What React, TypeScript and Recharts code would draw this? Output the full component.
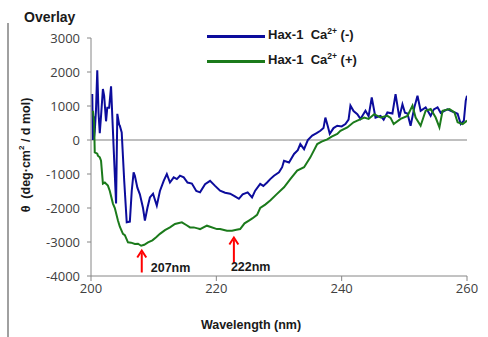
import {
  LineChart,
  Line,
  XAxis,
  YAxis,
  ReferenceLine,
  ReferenceDot,
  Legend,
} from "recharts";

// wavelength (nm) / ellipticity readings, Ca2+ free
const blueWl = [
  200.2, 200.3, 200.4, 200.5, 200.6, 200.8, 201.0, 201.2, 201.4, 201.6, 201.9, 202.1, 202.4, 202.6,
  202.9, 203.2, 203.4, 203.7, 204.0, 204.2, 204.5, 204.6, 204.9, 205.3, 205.7, 206.2, 206.5, 206.8,
  207.0, 207.4, 207.8, 208.3, 208.6, 209.0, 209.4, 209.9, 210.5, 211.0, 211.6, 212.1, 212.6, 213.2,
  213.7, 214.2, 214.8, 215.4, 216.1, 216.8, 217.4, 218.2, 219.0, 219.8, 220.6, 221.4, 222.2, 222.9,
  223.6, 224.2, 225.0, 225.7, 226.2, 227.0, 227.5, 228.1, 228.6, 229.2, 230.0, 230.5, 230.8, 231.6,
  232.4, 233.0, 233.4, 234.0, 234.6, 235.3, 236.0, 236.6, 237.1, 237.4, 237.8, 238.1, 238.7, 239.3,
  240.0, 240.6, 241.1, 241.4, 241.9, 242.5, 243.0, 243.8, 244.3, 244.8, 245.4, 246.2, 246.7, 247.3,
  248.1, 248.6, 249.2, 249.7, 250.1, 250.5, 251.0, 251.6, 252.1, 252.6, 253.4, 254.2, 254.7, 255.3,
  255.8, 256.4, 256.9, 257.4, 258.5, 259.0, 259.5, 259.8, 260.0,
];
const blueVal = [
  1350, 0, 700, 100, 250, 900, 2050, 800, 200, 700, 1500, 1300, 550, 950,
  950, 1580, 700, -600, -1870, 770, 450, 420, 220, -1200, -2420, -2400, -1500, -950,
  -1050, -1400, -1600, -2000, -2370, -2000, -1690, -1580, -1930, -1500, -1200, -1000, -1250, -1100,
  -1150, -1050, -1100, -1250, -1280, -1500, -1540, -1300, -1200, -1350, -1490, -1550, -1580, -1650,
  -1730, -1600, -1540, -1690, -1490, -1290, -1350, -1250, -1150, -1050, -950, -800, -610, -660,
  -410, -300, -120, -270, 0, 130, 200, 270, 350, 660, 400, 180, 350, 420,
  400, 470, 600, 1010, 850, 760, 620, 860, 700, 1250, 660, 710, 600, 810,
  780, 1350, 660, 1050, 800, 780, 420, 960, 1300, 860, 960, 710, 900, 960,
  800, 860, 900, 860, 770, 470, 570, 1160, 1300,
];

// Ca2+ bound
const greenWl = [
  200.3, 200.5, 200.6, 201.0, 201.1, 201.4, 201.6, 201.9, 202.2, 202.7, 203.0, 203.5, 203.8, 204.3,
  204.6, 205.1, 205.4, 205.9, 206.4, 207.0, 207.5, 208.0, 208.5, 209.1, 209.8, 210.4, 211.0, 211.8,
  212.6, 213.4, 214.5, 215.2, 215.8, 216.4, 217.0, 217.4, 218.5, 219.0, 220.1, 220.6, 221.7, 222.5,
  223.2, 223.8, 224.5, 225.2, 225.8, 226.5, 227.0, 227.8, 228.6, 229.6, 230.8, 231.8, 232.9, 234.0,
  235.0, 236.1, 236.8, 237.7, 238.4, 239.3, 239.8, 240.9, 241.9, 242.5, 243.6, 244.3, 245.2, 246.2,
  247.3, 247.8, 248.3, 249.4, 250.5, 251.3, 251.8, 252.6, 253.4, 254.2, 255.0, 255.6, 256.1, 257.2,
  258.0, 258.5, 259.3, 260.0,
];
const greenVal = [
  860, 500, -365, -400, -460, -510, -610, -1280, -1250, -1340, -1500, -1870, -2000, -2370,
  -2550, -2760, -2800, -3010, -3020, -3060, -3050, -3110, -3080, -3010, -2950, -2860, -2760, -2650,
  -2570, -2470, -2420, -2500, -2570, -2570, -2600, -2620, -2520, -2550, -2620, -2620, -2670, -2670,
  -2640, -2620, -2450, -2370, -2300, -2200, -2000, -1900, -1780, -1600, -1390, -1150, -900, -800,
  -510, -120, -50, 20, 100, 180, 270, 370, 520, 570, 660, 620, 760, 660,
  710, 650, 470, 620, 710, 1010, 660, 420, 860, 910, 660, 370, 860, 910,
  810, 520, 470, 570,
];

const yTicks = [-4000, -3000, -2000, -1000, 0, 1000, 2000, 3000];
const xTicks = [200, 220, 240, 260];

// peak markers: arrow tip position and label
const peakWl = [208.1, 222.8];
const peakVal = [-3250, -2870];
const peakLabels = ["207nm", "222nm"];

const blueData = blueWl.map((wl, i) => ({ wl, v: blueVal[i] }));
const greenData = greenWl.map((wl, i) => ({ wl, v: greenVal[i] }));

const FONT = "'Liberation Sans', Arial, sans-serif";
const TICK = { fontSize: 13, fill: "#404040", fontFamily: "'Open Sans', sans-serif" };

function Arrow(props: any, idx: number) {
  const { cx, cy } = props;
  const len = idx === 0 ? 22 : 26;
  const lx = idx === 0 ? cx + 9 : cx - 3;
  const ly = idx === 0 ? cy + 21 : cy + 33;
  return (
    <g>
      <line x1={cx} y1={cy + 2} x2={cx} y2={cy + len} stroke="#ff0000" strokeWidth={2} />
      <path
        d={`M${cx - 4.5},${cy + 7} L${cx},${cy} L${cx + 4.5},${cy + 7}`}
        stroke="#ff0000"
        strokeWidth={2}
        fill="none"
      />
      <text x={lx} y={ly} fontSize={12.5} fontWeight="bold" fill="#1a1a1a" fontFamily={FONT}>
        {peakLabels[idx]}
      </text>
    </g>
  );
}

function LegendBox(props: any) {
  const { payload } = props;
  return (
    <div style={{ fontFamily: FONT }}>
      {(payload || []).map((p: any) => (
        <div key={p.value} style={{ display: "flex", alignItems: "center", height: 25 }}>
          <div style={{ width: 58, height: 2.5, background: p.color, marginRight: 3 }} />
          <span style={{ fontSize: 13, fontWeight: "bold", color: "#1a1a1a", whiteSpace: "pre", marginTop: -5 }}>
            {"Hax-1  Ca"}
            <sup style={{ fontSize: 8.5 }}>2+</sup>
            {p.value === "minus" ? " (-)" : " (+)"}
          </span>
        </div>
      ))}
    </div>
  );
}

export default function App() {
  return (
    <div style={{ position: "absolute", left: 0, top: 0, width: 488, height: 337, background: "#fff" }}>
      <div style={{ position: "absolute", left: 7, top: 23, width: 1.5, height: 314, background: "#a0a0a0" }} />
      <div
        style={{
          position: "absolute",
          left: 24,
          top: 9,
          fontFamily: FONT,
          fontWeight: "bold",
          fontSize: 14,
          color: "#1a1a1a",
        }}
      >
        Overlay
      </div>
      <div
        style={{
          position: "absolute",
          left: 25,
          top: 155,
          transform: "translate(-50%, -50%) rotate(-90deg)",
          fontFamily: FONT,
          fontWeight: "bold",
          fontSize: 12.5,
          color: "#1a1a1a",
          whiteSpace: "pre",
        }}
      >
        θ  (deg·cm<sup style={{ fontSize: 8 }}>2</sup> / d mol)
      </div>
      <div
        style={{
          position: "absolute",
          left: 251,
          top: 325,
          transform: "translate(-50%, -50%)",
          fontFamily: FONT,
          fontWeight: "bold",
          fontSize: 12.5,
          color: "#1a1a1a",
          whiteSpace: "pre",
        }}
      >
        Wavelength (nm)
      </div>
      <LineChart width={488} height={337} margin={{ top: 38, right: 21, bottom: 0, left: 0 }}>
        <XAxis
          type="number"
          dataKey="wl"
          domain={[200, 260]}
          ticks={xTicks}
          allowDataOverflow
          tick={TICK}
          tickSize={5}
          tickMargin={3}
          height={61}
          stroke="#868686"
        />
        <YAxis
          type="number"
          dataKey="v"
          domain={[-4000, 3000]}
          ticks={yTicks}
          interval={0}
          allowDataOverflow
          tick={TICK}
          tickSize={4}
          tickMargin={7}
          width={91}
          stroke="#868686"
        />
        <ReferenceLine y={0} stroke="#808080" strokeWidth={1.2} />
        <Legend
          layout="vertical"
          verticalAlign="middle"
          align="center"
          wrapperStyle={{ top: 24, left: 207, width: "auto" }}
          content={LegendBox}
        />
        <Line
          data={blueData}
          dataKey="v"
          name="minus"
          stroke="#0c0c9c"
          strokeWidth={2}
          dot={false}
          type="linear"
          isAnimationActive={false}
        />
        <Line
          data={greenData}
          dataKey="v"
          name="plus"
          stroke="#1b7a1b"
          strokeWidth={2}
          dot={false}
          type="linear"
          isAnimationActive={false}
        />
        {peakWl.map((wl, i) => (
          <ReferenceDot
            key={peakLabels[i]}
            x={wl}
            y={peakVal[i]}
            r={0}
            shape={(p: any) => Arrow(p, i)}
          />
        ))}
      </LineChart>
    </div>
  );
}
